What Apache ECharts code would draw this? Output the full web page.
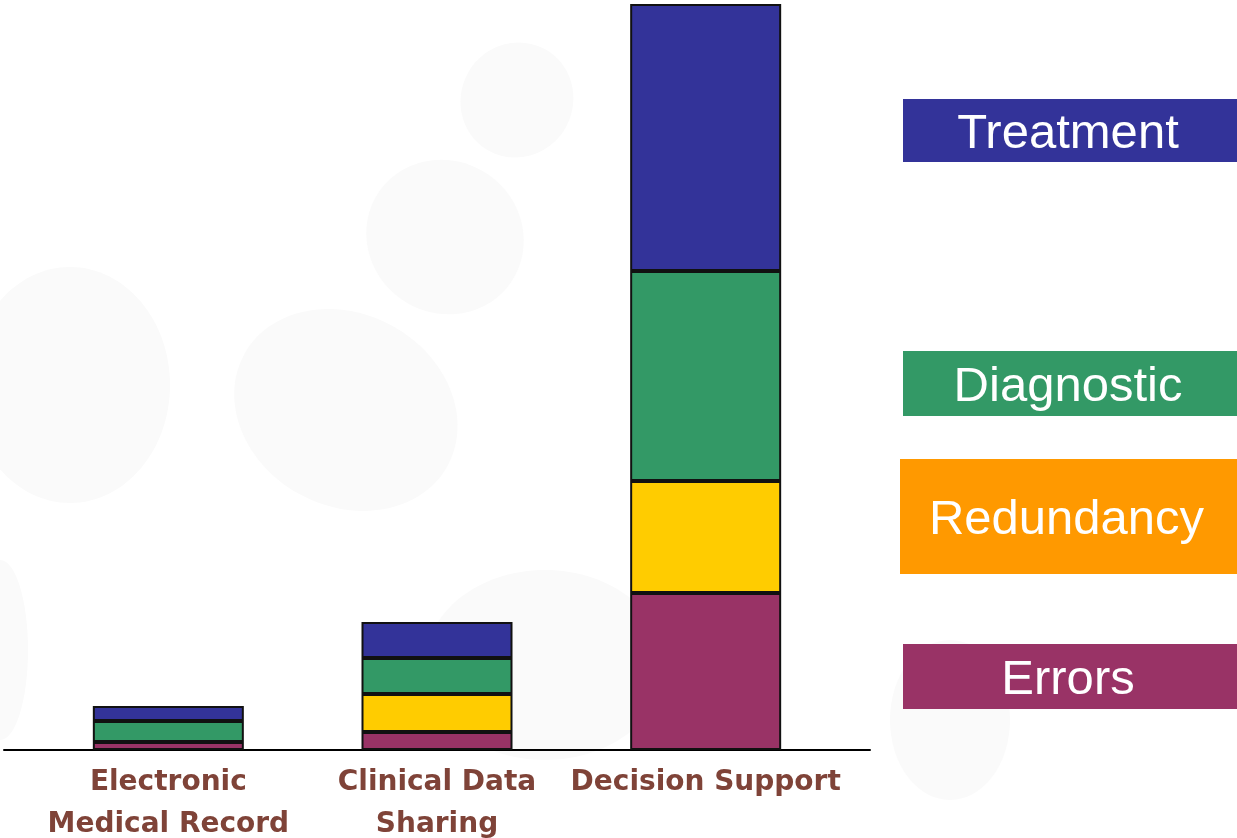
<!DOCTYPE html>
<html>
<head>
<meta charset="utf-8">
<script src="https://cdn.jsdelivr.net/npm/echarts@6/dist/echarts.min.js"></script>
<style>
html,body{margin:0;padding:0;background:#fff;}
#chart{width:1237px;height:838px;}
</style>
</head>
<body>
<div id="chart"></div>
<script>
// ---- data ----
const categories = ['Electronic\nMedical Record', 'Clinical Data\nSharing', 'Decision Support'];
const seriesNames = ['Errors', 'Redundancy', 'Diagnostic', 'Treatment'];
const errors     = [8, 18, 157];
const redundancy = [0, 38, 112];
const diagnostic = [21, 36, 210];
const treatment  = [15, 36, 267];
const valueMax = 746;

// ---- styles ----
const barColors = ['#993366', '#FFCC00', '#339966', '#333399'];
const legendColors = ['#993366', '#FF9900', '#339966', '#333399'];
const seriesData = [errors, redundancy, diagnostic, treatment];

const chart = echarts.init(document.getElementById('chart'), null, {renderer: 'canvas'});

const blobs = [
  {cx: 70, cy: 385, rx: 100, ry: 118, rot: 0},
  {cx: 346, cy: 410, rx: 116, ry: 96, rot: -0.5},
  {cx: 445, cy: 237, rx: 80, ry: 76, rot: -0.6},
  {cx: 517, cy: 100, rx: 56, ry: 58, rot: -0.5},
  {cx: 545, cy: 665, rx: 120, ry: 95, rot: 0},
  {cx: 0, cy: 650, rx: 28, ry: 90, rot: 0},
  {cx: 950, cy: 720, rx: 60, ry: 80, rot: 0}
];

const legendBoxes = [
  {name: 'Treatment', x: 903, y: 99, w: 334, h: 63},
  {name: 'Diagnostic', x: 903, y: 351, w: 334, h: 65},
  {name: 'Redundancy', x: 900, y: 459, w: 337, h: 115},
  {name: 'Errors', x: 903, y: 644, w: 334, h: 65}
];

const graphics = [];
blobs.forEach(b => {
  graphics.push({
    type: 'ellipse', z: -10, silent: true,
    x: b.cx, y: b.cy, rotation: b.rot,
    shape: {cx: 0, cy: 0, rx: b.rx, ry: b.ry},
    style: {fill: '#fafafa'}
  });
});
legendBoxes.forEach(lb => {
  const idx = seriesNames.indexOf(lb.name);
  graphics.push({
    type: 'group', left: lb.x, top: lb.y,
    children: [
      {type: 'rect', shape: {x: 0, y: 0, width: lb.w, height: lb.h}, style: {fill: legendColors[idx]}},
      {type: 'text', x: lb.w / 2 - 2, y: lb.h / 2 + 4,
       style: {text: lb.name, fill: '#ffffff', font: '49px "Liberation Sans", Arial, sans-serif',
               align: 'center', verticalAlign: 'middle'}}
    ]
  });
});

const option = {
  backgroundColor: '#ffffff',
  animation: false,
  grid: [
    {left: 34, width: 806, top: 4, bottom: 88, containLabel: false, outerBoundsMode: 'none'},
    {left: 4, right: 367, top: 4, bottom: 88, containLabel: false, outerBoundsMode: 'none'}
  ],
  xAxis: [
    {
      type: 'category', gridIndex: 0, data: categories,
      axisLine: {show: false}, axisTick: {show: false},
      axisLabel: {
        interval: 0, margin: 12, color: '#7F4338',
        fontFamily: '"DejaVu Sans", Verdana, sans-serif', fontWeight: 'bold',
        fontSize: 28, lineHeight: 42
      }
    },
    {
      type: 'value', gridIndex: 1, min: 0, max: 1,
      axisLine: {show: true, lineStyle: {color: '#000', width: 2}},
      axisTick: {show: false}, axisLabel: {show: false}, splitLine: {show: false}
    }
  ],
  yAxis: [
    {type: 'value', gridIndex: 0, min: 0, max: valueMax, show: false, splitLine: {show: false}},
    {type: 'value', gridIndex: 1, min: 0, max: 1, show: false, splitLine: {show: false}}
  ],
  graphic: graphics,
  series: seriesNames.map((name, i) => ({
    name: name, type: 'bar', stack: 'total', xAxisIndex: 0, yAxisIndex: 0,
    barWidth: 151,
    data: seriesData[i].map(v => (v === 0 ? null : v)),
    itemStyle: {color: barColors[i], borderColor: '#111', borderWidth: 2},
    emphasis: {disabled: true}
  }))
};
chart.setOption(option);
</script>
</body>
</html>
